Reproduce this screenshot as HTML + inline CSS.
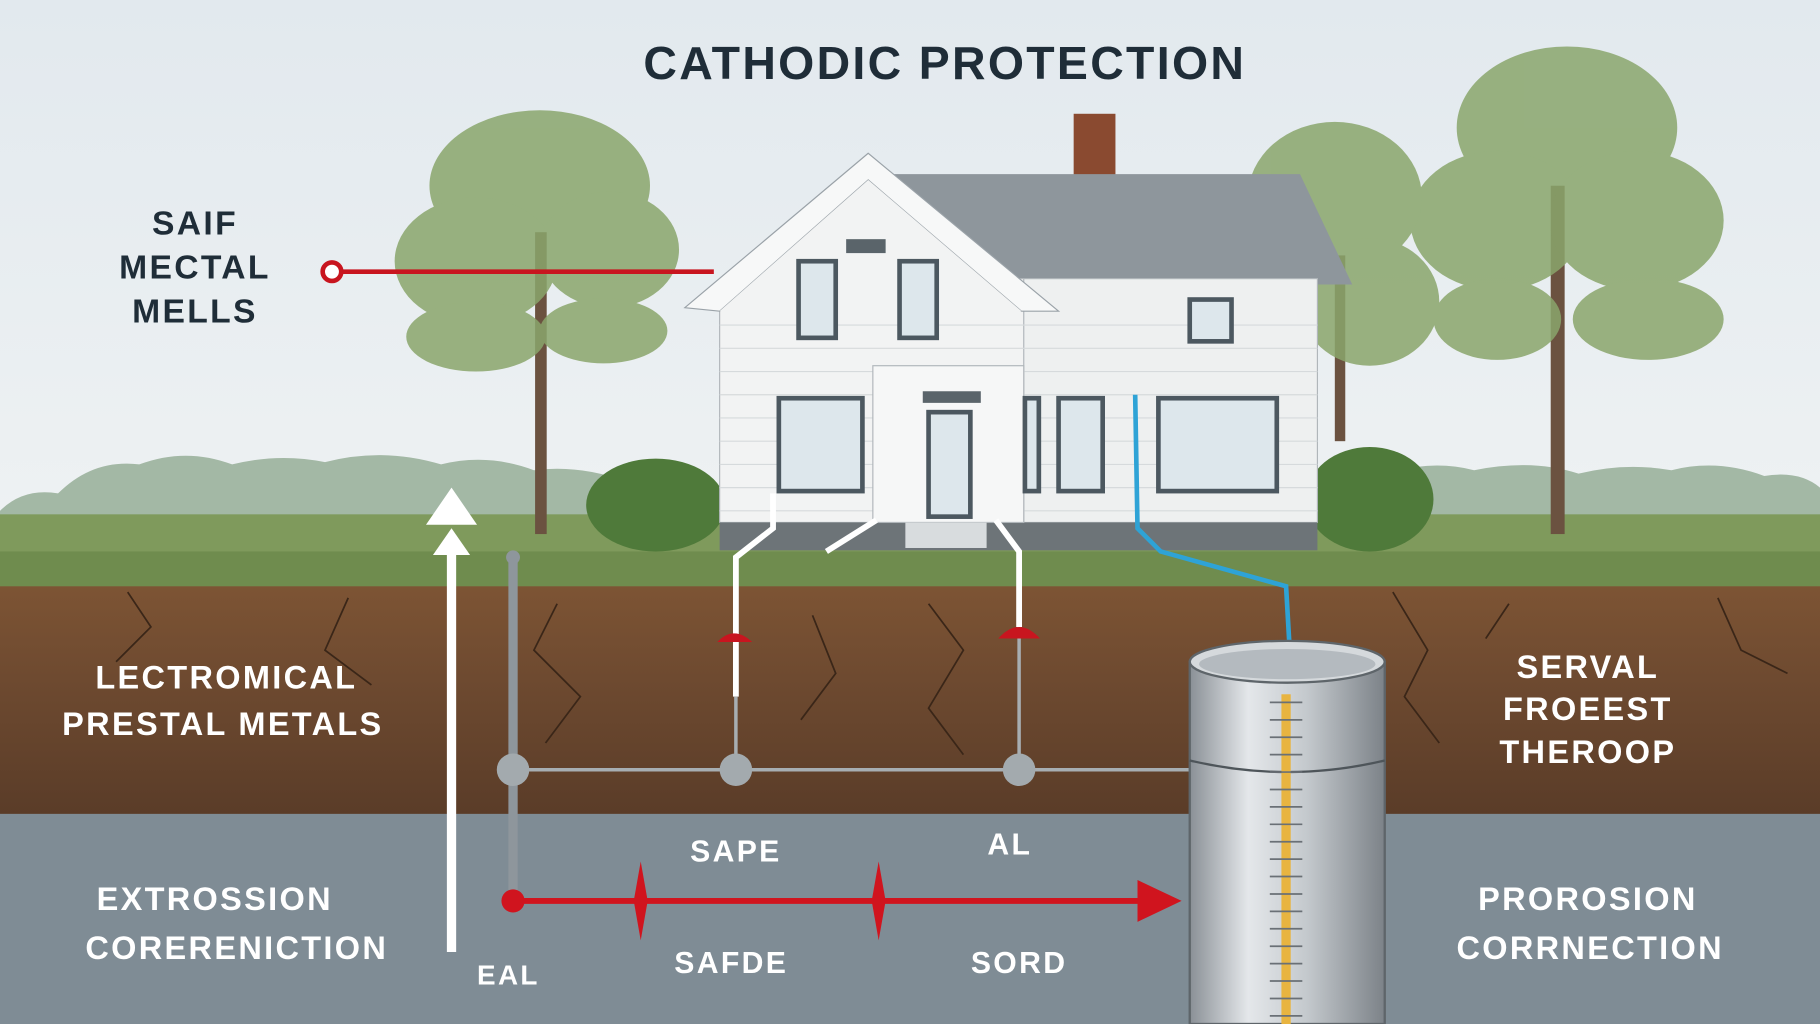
<!DOCTYPE html>
<html><head><meta charset="utf-8"><style>
html,body{margin:0;padding:0;width:1820px;height:1024px;overflow:hidden;background:#e8eef2}
svg{display:block}
text{font-family:"Liberation Sans",sans-serif;font-weight:bold;letter-spacing:2px}
</style></head><body>
<svg width="1820" height="1024" viewBox="0 0 1568 882" preserveAspectRatio="none" xmlns="http://www.w3.org/2000/svg">
<defs>
<linearGradient id="sky" x1="0" y1="0" x2="0" y2="1"><stop offset="0" stop-color="#e2e9ee"/><stop offset="0.6" stop-color="#f0f3f4"/><stop offset="1" stop-color="#f4f5f2"/></linearGradient>
<linearGradient id="soil" x1="0" y1="0" x2="0" y2="1"><stop offset="0" stop-color="#7d5434"/><stop offset="0.4" stop-color="#6e4a30"/><stop offset="1" stop-color="#5a3c28"/></linearGradient>
<linearGradient id="cyl" x1="0" y1="0" x2="1" y2="0"><stop offset="0" stop-color="#8a9096"/><stop offset="0.3" stop-color="#e4e7ea"/><stop offset="0.6" stop-color="#c4c9cd"/><stop offset="1" stop-color="#7c8288"/></linearGradient>
</defs>
<rect width="1568" height="882" fill="url(#sky)"/>
<!-- distant trees -->
<path d="M0 440 Q20 420 50 425 Q80 395 120 400 Q160 385 200 400 Q240 390 280 398 Q330 385 380 400 Q420 390 460 405 Q500 400 540 415 L540 445 L0 445Z" fill="#a3b8a5"/>
<path d="M1190 445 L1190 410 Q1230 395 1270 405 Q1320 395 1360 408 Q1400 398 1440 405 Q1480 395 1520 410 Q1550 405 1568 420 L1568 445Z" fill="#a3b8a5"/>
<!-- grass -->
<rect y="443" width="1568" height="65" fill="#7f9a5c"/>
<rect y="475" width="1568" height="33" fill="#6f8c4e"/>
<!-- soil -->
<rect y="505" width="1568" height="198" fill="url(#soil)"/>
<path d="M110 510 L130 540 L100 570 M300 515 L280 560 L320 590 M480 520 L460 560 L500 600 L470 640 M700 530 L720 580 L690 620 M800 520 L830 560 L800 610 L830 650 M1200 510 L1230 560 L1210 600 L1240 640 M1300 520 L1280 550 M1480 515 L1500 560 L1540 580" stroke="#3a2618" stroke-width="1.5" fill="none"/>
<!-- concrete -->
<rect y="701" width="1568" height="181" fill="#7f8c95"/>
<!-- trees -->
<g fill="#6b5240"><rect x="461" y="200" width="10" height="260"/><rect x="1336" y="160" width="12" height="300"/><rect x="1150" y="220" width="9" height="160"/></g>
<g fill="#8aa66c" opacity="0.85">
<ellipse cx="465" cy="160" rx="95" ry="65"/><ellipse cx="410" cy="225" rx="70" ry="55"/><ellipse cx="525" cy="215" rx="60" ry="50"/><ellipse cx="410" cy="290" rx="60" ry="30"/><ellipse cx="520" cy="285" rx="55" ry="28"/>
<ellipse cx="1350" cy="110" rx="95" ry="70"/><ellipse cx="1290" cy="190" rx="75" ry="60"/><ellipse cx="1410" cy="190" rx="75" ry="60"/><ellipse cx="1420" cy="275" rx="65" ry="35"/><ellipse cx="1290" cy="275" rx="55" ry="35"/>
<ellipse cx="1150" cy="170" rx="75" ry="65"/><ellipse cx="1180" cy="260" rx="60" ry="55"/>
</g>
<!-- bushes -->
<ellipse cx="565" cy="435" rx="60" ry="40" fill="#4f7a3a"/><ellipse cx="1180" cy="430" rx="55" ry="45" fill="#4f7a3a"/>
<!-- house -->
<rect x="925" y="98" width="36" height="65" fill="#8a4a30"/>
<polygon points="770,150 1120,150 1165,245 880,245" fill="#8e969c"/>
<rect x="880" y="240" width="255" height="210" fill="#eef0f0" stroke="#b0b6ba"/>
<rect x="620" y="240" width="262" height="210" fill="#f2f3f3" stroke="#b0b6ba"/>
<polygon points="748,132 590,265 620,268 748,155 880,268 912,268" fill="#f7f8f8" stroke="#9aa2a8"/>
<polygon points="748,155 620,268 880,268" fill="#f2f3f3"/>
<g stroke="#d6dadc" stroke-width="1">
<path d="M620 280 H1135 M620 300 H1135 M620 320 H1135 M620 340 H1135 M620 360 H1135 M620 380 H1135 M620 400 H1135 M620 420 H1135 M620 440 H1135"/>
</g>
<rect x="620" y="450" width="515" height="24" fill="#6d7478"/>
<rect x="752" y="315" width="130" height="135" fill="#f6f7f7" stroke="#b0b6ba"/>
<g fill="#dde7ec" stroke="#4c5860" stroke-width="4">
<rect x="688" y="225" width="32" height="66"/><rect x="775" y="225" width="32" height="66"/>
<rect x="1025" y="258" width="36" height="36"/>
<rect x="671" y="343" width="72" height="80"/><rect x="912" y="343" width="38" height="80"/><rect x="883" y="343" width="12" height="80"/>
<rect x="998" y="343" width="102" height="80"/>
<rect x="800" y="355" width="36" height="90"/>
</g>
<rect x="729" y="206" width="34" height="12" fill="#5a646a"/>
<rect x="795" y="337" width="50" height="10" fill="#5a646a"/>
<rect x="780" y="450" width="70" height="22" fill="#d8dcde"/>
<!-- pipes from house -->
<path d="M666 425 L666 455 L634 480 L634 600" stroke="#fff" stroke-width="5" fill="none"/>
<path d="M712 475 L755 448" stroke="#fff" stroke-width="5"/>
<path d="M858 448 L878 475 L878 540" stroke="#fff" stroke-width="5" fill="none"/>
<path d="M978 340 L980 455 L1000 475 L1108 505 L1112 575" stroke="#2ea3d6" stroke-width="4" fill="none"/>
<!-- red pointer top-left -->
<line x1="286" y1="234" x2="615" y2="234" stroke="#c8151f" stroke-width="4"/>
<circle cx="286" cy="234" r="8" fill="#fff" stroke="#c8151f" stroke-width="4"/>
<!-- gray network -->
<line x1="442" y1="480" x2="442" y2="770" stroke="#8e969c" stroke-width="8"/>
<circle cx="442" cy="480" r="6" fill="#8e969c"/>
<line x1="442" y1="663" x2="1025" y2="663" stroke="#a7aeb2" stroke-width="3"/>
<line x1="634" y1="600" x2="634" y2="663" stroke="#a7aeb2" stroke-width="3"/>
<line x1="878" y1="540" x2="878" y2="663" stroke="#a7aeb2" stroke-width="3"/>
<g fill="#a3aaae"><circle cx="442" cy="663" r="14"/><circle cx="634" cy="663" r="14"/><circle cx="878" cy="663" r="14"/></g>
<path d="M618 553 Q632 538 648 553Z" fill="#c8151f"/><path d="M860 550 Q878 530 896 550Z" fill="#c8151f"/>
<!-- white arrow -->
<line x1="389" y1="470" x2="389" y2="820" stroke="#fff" stroke-width="8"/>
<polygon points="367,452 389,420 411,452" fill="#fff"/><polygon points="373,478 389,455 405,478" fill="#fff"/>
<!-- red arrow -->
<line x1="442" y1="776" x2="990" y2="776" stroke="#d0141e" stroke-width="5"/>
<circle cx="442" cy="776" r="10" fill="#d0141e"/>
<polygon points="980,758 1018,776 980,794" fill="#d0141e"/>
<polygon points="552,742 558,776 552,810 546,776" fill="#d0141e"/><polygon points="757,742 763,776 757,810 751,776" fill="#d0141e"/>
<!-- cylinder -->
<rect x="1025" y="570" width="168" height="312" fill="url(#cyl)" stroke="#5e656a" stroke-width="2"/>
<ellipse cx="1109" cy="570" rx="84" ry="18" fill="#d5d9dc" stroke="#5e656a" stroke-width="2"/>
<ellipse cx="1109" cy="572" rx="76" ry="13" fill="#b4babf"/>
<path d="M1025 655 Q1109 675 1193 655" stroke="#4e555a" stroke-width="2" fill="none"/>
<rect x="1104" y="598" width="8" height="284" fill="#e8b440"/>
<path d="M1094 605 L1122 605 M1094 620 L1122 620 M1094 635 L1122 635 M1094 650 L1122 650 M1094 665 L1122 665 M1094 680 L1122 680 M1094 695 L1122 695 M1094 710 L1122 710 M1094 725 L1122 725 M1094 740 L1122 740 M1094 755 L1122 755 M1094 770 L1122 770 M1094 785 L1122 785 M1094 800 L1122 800 M1094 815 L1122 815 M1094 830 L1122 830 M1094 845 L1122 845 M1094 860 L1122 860 M1094 875 L1122 875" stroke="#6a7076" stroke-width="1.5"/>
<!-- text -->
<text x="814" y="68" text-anchor="middle" font-size="40" fill="#1f2d38" letter-spacing="5">CATHODIC PROTECTION</text>
<g font-size="29" fill="#1f2d38" text-anchor="middle">
<text x="168" y="202">SAIF</text><text x="168" y="240">MECTAL</text><text x="168" y="278">MELLS</text>
</g>
<g font-size="28" fill="#fff" text-anchor="middle" letter-spacing="3">
<text x="195" y="593">LECTROMICAL</text><text x="192" y="633">PRESTAL METALS</text>
<text x="1368" y="584">SERVAL</text><text x="1368" y="620">FROEEST</text><text x="1368" y="657">THEROOP</text>
<text x="185" y="784">EXTROSSION</text><text x="204" y="826">CORERENICTION</text>
<text x="1368" y="784">PROROSION</text><text x="1370" y="826">CORRNECTION</text>
<text x="634" y="742" font-size="26">SAPE</text><text x="870" y="736" font-size="26">AL</text>
<text x="630" y="838" font-size="26">SAFDE</text><text x="878" y="838" font-size="26">SORD</text>
<text x="438" y="848" font-size="24">EAL</text>
</g>
</svg>
</body></html>
